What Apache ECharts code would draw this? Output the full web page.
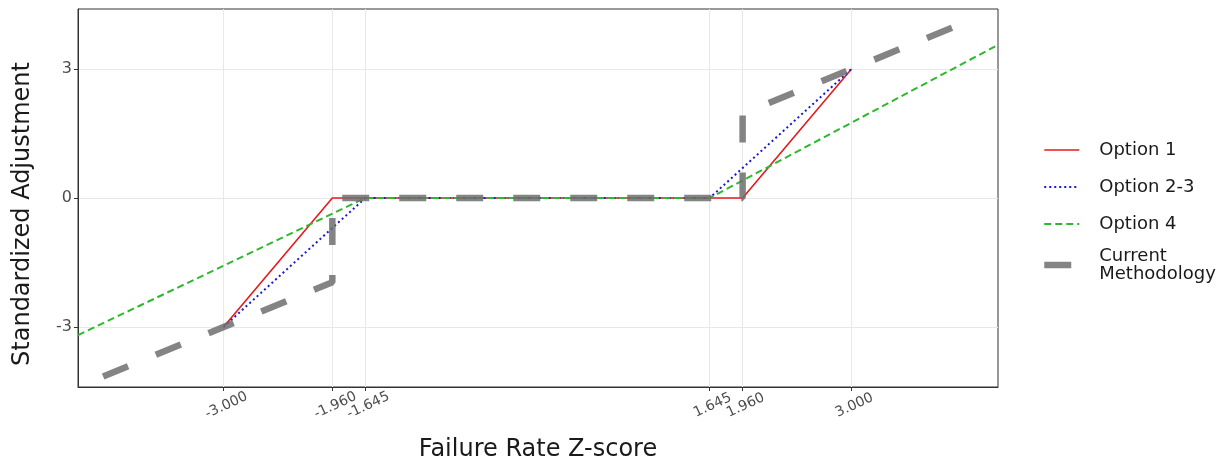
<!DOCTYPE html>
<html>
<head>
<meta charset="utf-8">
<script src="https://cdn.jsdelivr.net/npm/echarts@6/dist/echarts.min.js"></script>
<style>html,body{margin:0;padding:0;background:#fff;}#c{width:1223px;height:459px;}</style>
</head>
<body>
<div id="c"></div>
<script>
const xTicks = [-3.000, -1.960, -1.645, 1.645, 1.960, 3.000];
const yTicks = [-3, 0, 3];
const option1 = [[-3, -3], [-1.96, 0], [1.96, 0], [3, 3]];
const option23 = [[-3, -3], [-1.645, 0], [1.645, 0], [3, 3]];
const option4 = [[-4.39, -3.19], [-1.645, 0], [1.645, 0], [4.40, 3.56]];
const current = [[-4.15, -4.15], [-1.96, -1.96], [-1.96, 0], [1.96, 0], [1.96, 1.96], [4.2, 4.2]];
const seriesNames = ['Option 1', 'Option 2-3', 'Option 4', 'Current\nMethodology'];

const FONT = 'DejaVu Sans';
const chart = echarts.init(document.getElementById('c'), null, {renderer: 'canvas'});
const styles = [
  {color: '#e41a1c', width: 1.6, type: 'solid', opacity: 1},
  {color: '#1a1acc', width: 2, type: [2, 3], opacity: 1},
  {color: '#2db82d', width: 2, type: [7, 4], opacity: 1},
  {color: '#6e6e6e', width: 6.5, type: [27, 30], opacity: 0.85}
];
const allData = [option1, option23, option4, current];
const legendData = seriesNames.map((n, i) => ({
  name: n,
  lineStyle: {width: styles[i].width, color: styles[i].color, type: styles[i].type, opacity: styles[i].opacity},
  textStyle: i < 3 ? {padding: [5, 0, 5, 15]} : {padding: [0, 0, 0, 15]}
}));
chart.setOption({
  backgroundColor: '#fff',
  animation: false,
  grid: {left: 78, right: 225, top: 9, bottom: 72, show: true, borderColor: '#333', borderWidth: 1,
    outerBoundsMode: 'none', containLabel: false},
  xAxis: {
    type: 'value', min: -4.39, max: 4.40,
    name: 'Failure Rate Z-score', nameLocation: 'middle', nameGap: 51,
    nameTextStyle: {fontSize: 24, color: '#1a1a1a', fontFamily: FONT},
    axisLine: {show: true, onZero: false, lineStyle: {color: '#333'}},
    axisTick: {show: true, customValues: xTicks, length: 4, lineStyle: {color: '#333'}},
    axisLabel: {customValues: xTicks, rotate: 25, fontSize: 14, color: '#4d4d4d', margin: 12,
      align: 'center', verticalAlign: 'top',
      fontFamily: FONT, formatter: v => v.toFixed(3)},
    splitLine: {show: true, lineStyle: {color: '#e8e8e8', width: 1}}
  },
  yAxis: {
    type: 'value', min: -4.395, max: 4.395,
    name: 'Standardized Adjustment', nameLocation: 'middle', nameGap: 43, nameRotate: 90,
    nameTextStyle: {fontSize: 24, color: '#1a1a1a', fontFamily: FONT, padding: [0, 32, 0, 0]},
    axisLine: {show: true, onZero: false, lineStyle: {color: '#333'}},
    axisTick: {show: true, customValues: yTicks, length: 4, lineStyle: {color: '#333'}},
    axisLabel: {customValues: yTicks, fontSize: 16, color: '#4d4d4d', margin: 6,
      fontFamily: FONT},
    splitLine: {show: true, lineStyle: {color: '#e8e8e8', width: 1}}
  },
  legend: {
    orient: 'vertical', left: 1041, top: 136, itemWidth: 35, itemHeight: 1, itemGap: 9,
    padding: 0,
    itemStyle: {opacity: 0},
    textStyle: {fontSize: 18, color: '#1a1a1a', fontFamily: FONT, lineHeight: 18},
    data: legendData
  },
  series: seriesNames.map((n, i) => ({
    name: n, type: 'line', data: allData[i], symbol: 'none', showSymbol: false,
    lineStyle: {color: styles[i].color, width: styles[i].width, type: styles[i].type,
      opacity: styles[i].opacity, cap: 'butt'},
    itemStyle: {color: styles[i].color}, clip: true, z: i === 3 ? 3 : 2
  }))
});
</script>
</body>
</html>
